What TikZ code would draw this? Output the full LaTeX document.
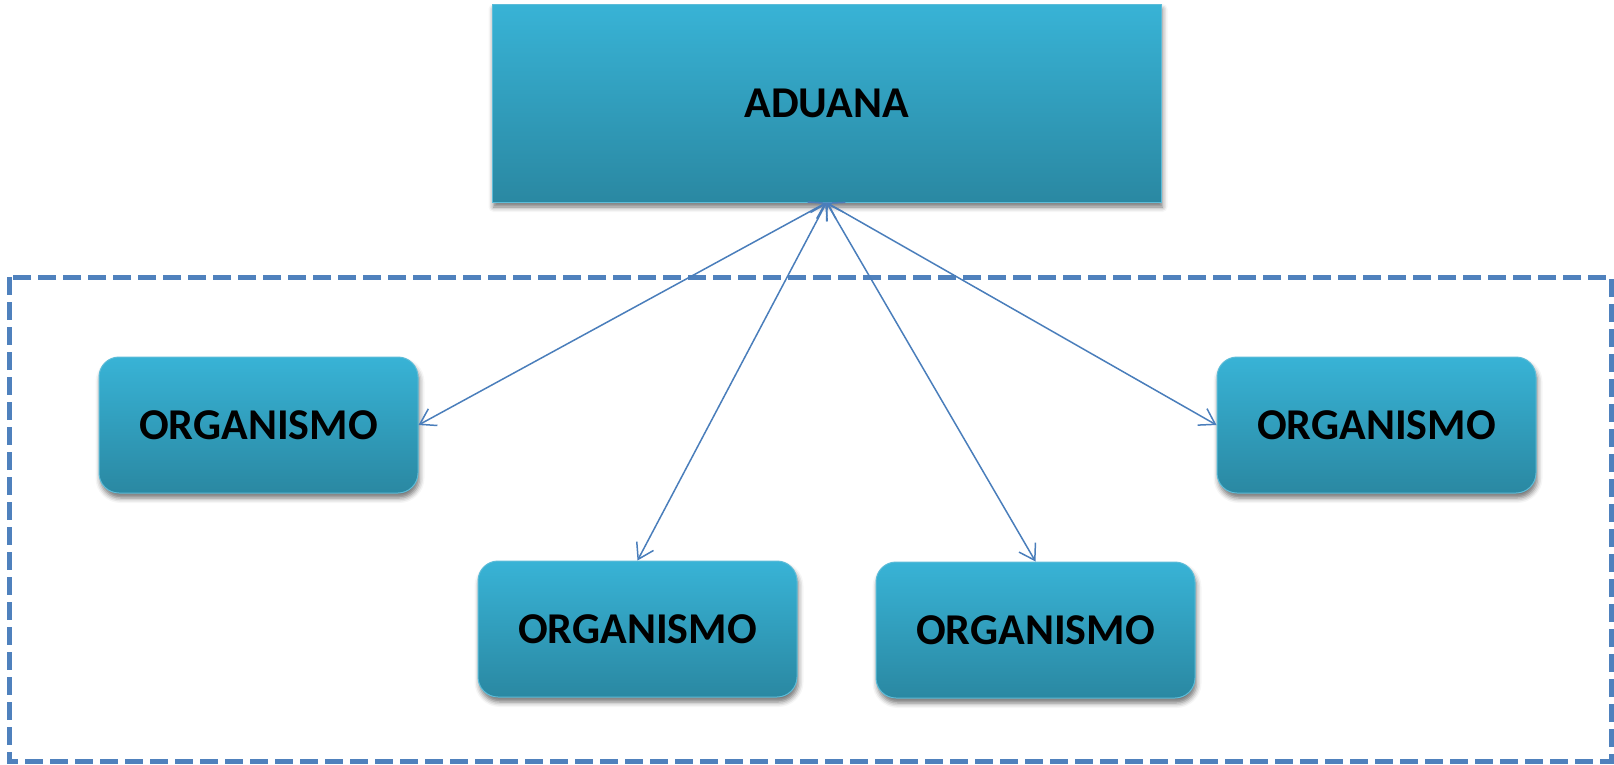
\documentclass[tikz,border=0pt]{standalone}
\usepackage{fontspec}
\setmainfont{Carlito}
\usetikzlibrary{arrows.meta,shadows.blur}
\definecolor{boxtop}{HTML}{38B3D6}
\definecolor{boxbot}{HTML}{2A88A2}
\definecolor{boxedge}{HTML}{5DBCD8}
\definecolor{linkblue}{HTML}{4A7EBB}
\definecolor{dashblue}{HTML}{4F81BD}
\tikzset{
  basebox/.style={top color=boxtop, bottom color=boxbot, draw=boxedge, line width=1pt,
    font=\fontsize{44}{52}\selectfont\bfseries, text=black,
    blur shadow={shadow xshift=1.5pt, shadow yshift=-5pt, shadow blur radius=5pt, shadow opacity=55}},
  topbox/.style={basebox, rectangle, minimum width=669pt, minimum height=198pt, inner sep=0pt},
  orgbox/.style={basebox, rectangle, rounded corners=20pt, minimum width=319pt, minimum height=136pt, inner sep=0pt},
  link/.style={draw=linkblue, line width=1.5pt,
    {Straight Barb[length=15pt,width=19pt,line width=1.5pt]}-{Straight Barb[length=15pt,width=19pt,line width=1.5pt]}},
  frame/.style={draw=dashblue, line width=5pt, dash pattern=on 18pt off 7pt}
}
\begin{document}
\begin{tikzpicture}[x=1pt,y=-1pt]
\useasboundingbox (0,0) rectangle (1614,764);
\draw[frame] (9,277) rectangle (1611,761);
\node[topbox] (aduana) at (826.5,103) {ADUANA};
\node[orgbox] (o1) at (258.5,425) {ORGANISMO};
\node[orgbox] (o2) at (637.5,629) {ORGANISMO};
\node[orgbox] (o3) at (1035.5,630) {ORGANISMO};
\node[orgbox] (o4) at (1376.5,425) {ORGANISMO};
\draw[link] (aduana.south) -- (o1.east);
\draw[link] (aduana.south) -- (o2.north);
\draw[link] (aduana.south) -- (o3.north);
\draw[link] (aduana.south) -- (o4.west);
\end{tikzpicture}
\end{document}
